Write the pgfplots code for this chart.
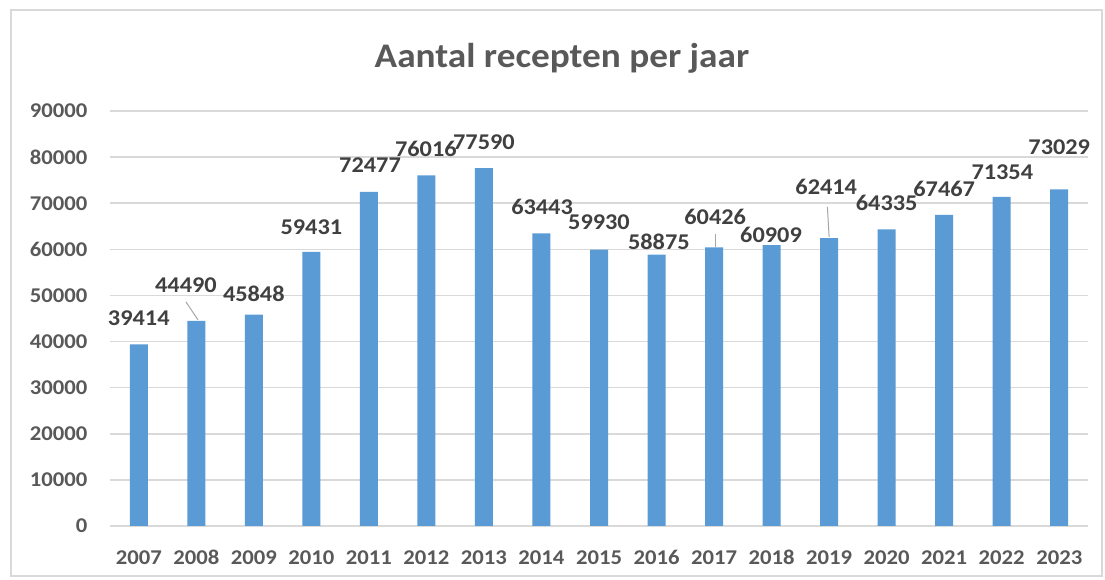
\documentclass[border=0pt]{standalone}
\usepackage{fontspec}
\setmainfont{Carlito}[FakeStretch=1.08]
\usepackage{pgfplots}
\usepackage{pgfplotstable}
\pgfplotsset{compat=1.18}
\definecolor{barblue}{HTML}{5B9BD5}
\definecolor{txtgray}{HTML}{595959}
\definecolor{lblgray}{HTML}{404040}
\definecolor{gridgray}{HTML}{D9D9D9}
\definecolor{leadgray}{HTML}{A6A6A6}

\pgfplotstableread{
x y lx ly
0 39414 0 45100
1 44490 0.82 52300
2 45848 2.0 50300
3 59431 3.0 64800
4 72477 4.02 78300
5 76016 4.99 81800
6 77590 6.0 83300
7 63443 7.01 69200
8 59930 8.0 65900
9 58875 9.04 61600
10 60426 10.02 67000
11 60909 10.99 63100
12 62414 11.95 73500
13 64335 13.0 70000
14 67467 14.0 73100
15 71354 15.01 76800
16 73029 16.0 82200
}\datatable

\begin{document}
\begin{tikzpicture}[x=1pt,y=1pt]
\useasboundingbox (-110,-54) rectangle (995,526);
\draw[fill=white, draw=gridgray, line width=1.5pt] (-99,-50) rectangle (992,516);
\begin{axis}[
  at={(0,0)}, anchor=south west,
  scale only axis, width=978pt, height=415pt,
  xmin=-0.5, xmax=16.5, ymin=0, ymax=90000,
  clip=false,
  axis line style={draw=none},
  major tick length=0pt,
  ytick={0,10000,20000,30000,40000,50000,60000,70000,80000,90000},
  ymajorgrids,
  grid style={gridgray, line width=1.5pt},
  xtick={0,...,16},
  xticklabels={2007,2008,2009,2010,2011,2012,2013,2014,2015,2016,2017,2018,2019,2020,2021,2022,2023},
  scaled y ticks=false,
  /pgf/number format/1000 sep={},
  /pgf/number format/assume math mode=true,
  yticklabel style={font=\fontsize{21}{25}\selectfont\bfseries, text=txtgray, xshift=-19pt},
  xticklabel style={font=\fontsize{21}{25}\selectfont\bfseries, text=txtgray, anchor=base, yshift=-39pt},
]
\addplot[ybar, bar width=18pt, fill=barblue, draw=none] table[x=x, y=y] {\datatable};
\addplot[draw=none, mark=none, nodes near coords, point meta=explicit symbolic,
  nodes near coords style={anchor=center, font=\fontsize{22.5}{27}\selectfont\bfseries, text=lblgray, inner sep=0pt}]
  table[x=lx, y=ly, meta=y] {\datatable};
\addplot[leadgray, line width=1pt, mark=none] coordinates {(0.82,48600) (1.03,44700)};
\addplot[leadgray, line width=1pt, mark=none] coordinates {(10.02,63300) (10.02,60500)};
\addplot[leadgray, line width=1pt, mark=none] coordinates {(11.97,69200) (12.0,62700)};
\end{axis}
\node[font=\fontsize{34.5}{41}\selectfont\bfseries, text=txtgray] at (452,468) {Aantal recepten per jaar};
\end{tikzpicture}
\end{document}
